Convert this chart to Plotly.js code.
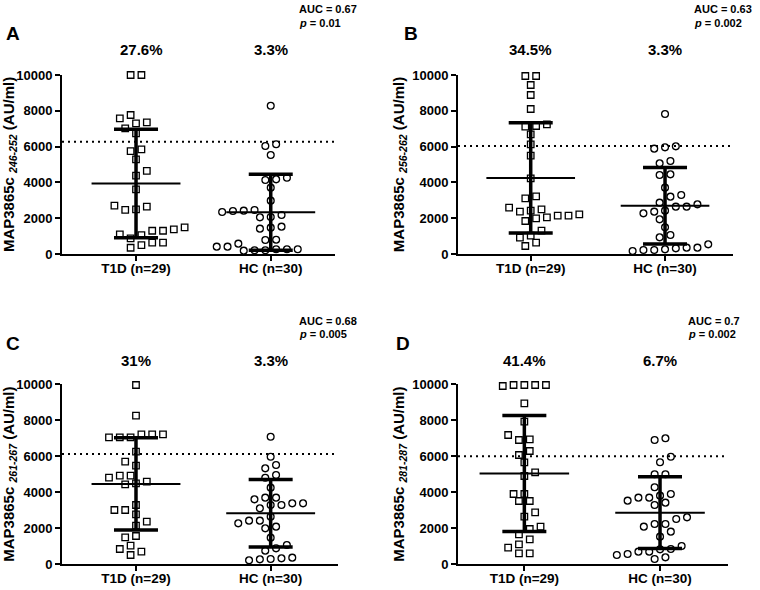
<!DOCTYPE html>
<html>
<head>
<meta charset="utf-8">
<script src="https://cdn.plot.ly/plotly-3.0.1.min.js"></script>
<style>html,body{margin:0;padding:0;background:#fff;}#chart{width:760px;height:590px;}</style>
</head>
<body>
<div id="chart"></div>
<script>
// ---------------- DATA ----------------
const categories = ['T1D', 'HC'];
const groupN = [29, 30];
const panelLetters = ['A', 'B', 'C', 'D'];
const peptides = ['246-252', '256-262', '261-267', '281-287'];
const aucValues = ['0.67', '0.63', '0.68', '0.7'];
const pValues = ['0.01', '0.002', '0.005', '0.002'];
const positivePct = [['27.6%', '3.3%'], ['34.5%', '3.3%'], ['31%', '3.3%'], ['41.4%', '6.7%']];
const cutoffs = [6270, 6030, 6120, 6000];
const yTicks = [0, 2000, 4000, 6000, 8000, 10000];

const t1dA = [10000, 10000, 7765, 7580, 7300, 7355, 7020, 6740, 5750, 5850, 5290, 4640, 4380, 3610,
  2650, 2700, 2460, 2495, 1490, 1300, 1300, 1380, 1100, 1060, 875, 630, 630, 500, 350];
const hcA = [8285, 6128, 6034, 5531, 4263, 4134, 4171, 3706, 2980, 2421, 2346, 2402, 2458, 2067, 2048,
  2179, 1527, 1415, 1471, 800, 782, 577, 410, 262, 207, 186, 207, 262, 262, 410];
const t1dB = [9944, 9944, 9441, 8883, 8101, 7244, 7114, 7151, 6685, 6127, 5493, 4227, 3110, 3222,
  2365, 2495, 2142, 2048, 2421, 2588, 1993, 2142, 2216, 1844, 1303, 913, 1024, 447, 633];
const hcB = [7821, 5959, 5885, 6015, 5065, 5196, 4451, 4413, 3706, 3296, 3203, 2868, 2775, 2644, 2644,
  2365, 2272, 2421, 1937, 1490, 1061, 931, 354, 317, 223, 168, 223, 261, 354, 540];
const t1dC = [9961, 8253, 7218, 7218, 7218, 7051, 7051, 7051, 6249, 5693, 5470, 4914, 4580, 4435, 4491,
  4803, 4914, 3283, 3005, 2766, 3005, 2354, 2131, 1558, 1484, 835, 501, 686, 1020];
const hcC = [7084, 5971, 5509, 5324, 4803, 4953, 4248, 3692, 3599, 3376, 3283, 3283, 3376, 3692, 3098,
  2634, 2412, 2263, 1984, 2078, 2412, 1466, 1057, 872, 742, 353, 278, 204, 260, 315];
const t1dD = [9961, 9961, 9905, 9961, 9961, 8943, 7919, 6939, 6900, 7179, 6288, 6066, 5659, 5103, 4897,
  3895, 3506, 3506, 3895, 2875, 2634, 1948, 2078, 1651, 1373, 1095, 909, 594, 594];
const hcD = [6900, 6994, 5971, 5659, 4992, 4992, 4268, 3895, 3692, 3524, 3283, 3413, 3692, 3803, 2597,
  2504, 2226, 2078, 2226, 1800, 1521, 1002, 835, 686, 501, 278, 371, 556, 686, 816];

const panelData = [[t1dA, hcA], [t1dB, hcB], [t1dC, hcC], [t1dD, hcD]];

// ---------------- LAYOUT CONSTANTS ----------------
const W = 760, H = 590;
const FONT = 'Arial, "Liberation Sans", Helvetica, sans-serif';
// plot boxes in pixels [left, right, top, bottom]
const boxes = [[62, 335, 75, 254], [458, 733, 75, 254], [62, 338, 384.3, 564], [458, 728, 384.3, 564]];
const xRanges = [[0.4506, 2.477], [0.4587, 2.506], [0.4506, 2.5], [0.511, 2.501]];
const yRange = [0, 10000];
const symbols = ['square', 'circle'];

function mean(a) { return a.reduce((s, v) => s + v, 0) / a.length; }
function sd(a) { const m = mean(a); return Math.sqrt(a.reduce((s, v) => s + (v - m) * (v - m), 0) / (a.length - 1)); }

// deterministic beeswarm (column scatter) offsets, computed in pixel space
function swarm(values, pxPerY, pxPerX) {
  const idx = values.map((v, i) => i).sort((a, b) => values[a] - values[b]);
  const placed = [];
  const offs = new Array(values.length).fill(0);
  const rowTol = 3.5, s = 10.8, h = 5.4, d = 8.6;
  let k = 0, flip = 1;
  while (k < idx.length) {
    const row = [idx[k]];
    const y0 = values[idx[k]] * pxPerY; k++;
    while (k < idx.length && values[idx[k]] * pxPerY - y0 < rowTol) { row.push(idx[k]); k++; }
    const n = row.length;
    const base = row.map((_, j) => (j - (n - 1) / 2) * s);
    let shift = 0;
    for (let t = 0; t < 30; t++) {
      const cand = t === 0 ? 0 : flip * ((t % 2) ? 1 : -1) * Math.ceil(t / 2) * h;
      const ok = row.every((id, j) => placed.every(p => {
        const dx = base[j] + cand - p.x, dy = values[id] * pxPerY - p.y;
        return dx * dx + dy * dy >= d * d;
      }));
      if (ok) { shift = cand; break; }
    }
    if (shift !== 0) flip = -flip;
    row.forEach((id, j) => {
      const x = base[j] + shift;
      placed.push({ x: x, y: values[id] * pxPerY });
      offs[id] = x / pxPerX;
    });
  }
  return offs;
}

const traces = [];
const shapes = [];
const annotations = [];
const layout = {
  width: W, height: H,
  margin: { l: 0, r: 0, t: 0, b: 0 },
  paper_bgcolor: '#fff', plot_bgcolor: '#fff',
  showlegend: false,
  font: { family: FONT, color: '#000', weight: 'bold' },
  shapes: shapes, annotations: annotations
};

panelData.forEach((groups, i) => {
  const n = i + 1;
  const xa = 'x' + (n === 1 ? '' : n), ya = 'y' + (n === 1 ? '' : n);
  const xk = 'xaxis' + (n === 1 ? '' : n), yk = 'yaxis' + (n === 1 ? '' : n);
  const b = boxes[i];
  const pxPerX = (b[1] - b[0]) / (xRanges[i][1] - xRanges[i][0]);
  const pxPerY = (b[3] - b[2]) / (yRange[1] - yRange[0]);

  layout[xk] = {
    domain: [b[0] / W, b[1] / W], range: xRanges[i], anchor: ya,
    showgrid: false, zeroline: false, showline: true, linewidth: 2, linecolor: '#000',
    ticks: 'outside', ticklen: 5, tickwidth: 2, tickcolor: '#000', ticklabelstandoff: -4,
    tickvals: [1, 2], ticktext: categories.map((c, g) => c + ' (n=' + groupN[g] + ')'),
    tickfont: { family: FONT, size: 13.5, weight: 'bold', color: '#000' }, fixedrange: true
  };
  layout[yk] = {
    domain: [1 - b[3] / H, 1 - b[2] / H], range: yRange, anchor: xa,
    showgrid: false, zeroline: false, showline: true, linewidth: 2, linecolor: '#000',
    ticks: 'outside', ticklen: 5, tickwidth: 2, tickcolor: '#000',
    tickvals: yTicks, ticktext: yTicks.map(String),
    tickfont: { family: FONT, size: 13, weight: 'bold', color: '#000' },
    title: { text: 'MAP3865c <sub><i>' + peptides[i] + '</i></sub> (AU/ml)', font: { family: FONT, size: 15, weight: 'bold', color: '#000' }, standoff: 4 },
    fixedrange: true
  };

  // cutoff dotted line
  shapes.push({ type: 'line', xref: xa + ' domain', yref: ya, x0: 0, x1: 1, y0: cutoffs[i], y1: cutoffs[i],
    line: { color: '#000', width: 2, dash: '2px,4px' } });

  groups.forEach((vals, g) => {
    const offs = swarm(vals, pxPerY, pxPerX);
    traces.push({
      type: 'scatter', mode: 'markers', xaxis: xa, yaxis: ya, cliponaxis: false, hoverinfo: 'y',
      x: vals.map((v, k) => g + 1 + offs[k]), y: vals,
      marker: { symbol: symbols[g], size: g === 0 ? 6.5 : 6.8, color: '#fff', line: { color: '#000', width: 1.3 } }
    });
    const m = mean(vals), s = sd(vals);
    traces.push({
      type: 'scatter', mode: 'markers', xaxis: xa, yaxis: ya, cliponaxis: false, hoverinfo: 'skip',
      x: [g + 1], y: [m], marker: { size: 1, opacity: 0 },
      error_y: { type: 'data', array: [s], symmetric: true, width: 22, thickness: 3.5, color: '#000' }
    });
    traces.push({
      type: 'scatter', mode: 'lines', xaxis: xa, yaxis: ya, cliponaxis: false, hoverinfo: 'skip',
      x: [g + 1 - 0.33, g + 1 + 0.33], y: [m, m], line: { color: '#000', width: 2 }
    });
    // percentage above each group
    annotations.push({ xref: xa, yref: 'paper', x: g + 1 + (i === 0 && g === 0 ? 0.04 : 0), y: 1 - (i < 2 ? 49 : 360) / H,
      text: positivePct[i][g], showarrow: false, xanchor: 'center', yanchor: 'middle',
      font: { family: FONT, size: 15, weight: 'bold', color: '#000' } });
  });

  // panel letter
  const offY = i < 2 ? 0 : 300;
  const letterX = [4, 402, 4, 394][i];
  annotations.push({ xref: 'paper', yref: 'paper', x: letterX / W, y: 1 - (offY + (i < 2 ? 33 : 43)) / H,
    text: panelLetters[i], showarrow: false, xanchor: 'left', yanchor: 'middle',
    font: { family: FONT, size: 19, weight: 'bold', color: '#000' } });
  // AUC and p
  const statX = [297, 691.5, 297, 686][i];
  const aucY = i < 2 ? 8.5 : 320.7, pY = i < 2 ? 22.7 : 334.3;
  annotations.push({ xref: 'paper', yref: 'paper', x: statX / W, y: 1 - aucY / H,
    text: 'AUC = ' + aucValues[i], showarrow: false, xanchor: 'left', yanchor: 'middle',
    font: { family: FONT, size: 11, weight: 'bold', color: '#000' } });
  annotations.push({ xref: 'paper', yref: 'paper', x: statX / W, y: 1 - pY / H,
    text: '<i>p</i> = ' + pValues[i], showarrow: false, xanchor: 'left', yanchor: 'middle',
    font: { family: FONT, size: 11, weight: 'bold', color: '#000' } });
});

Plotly.newPlot('chart', traces, layout, { displayModeBar: false, staticPlot: true });
</script>
</body>
</html>
